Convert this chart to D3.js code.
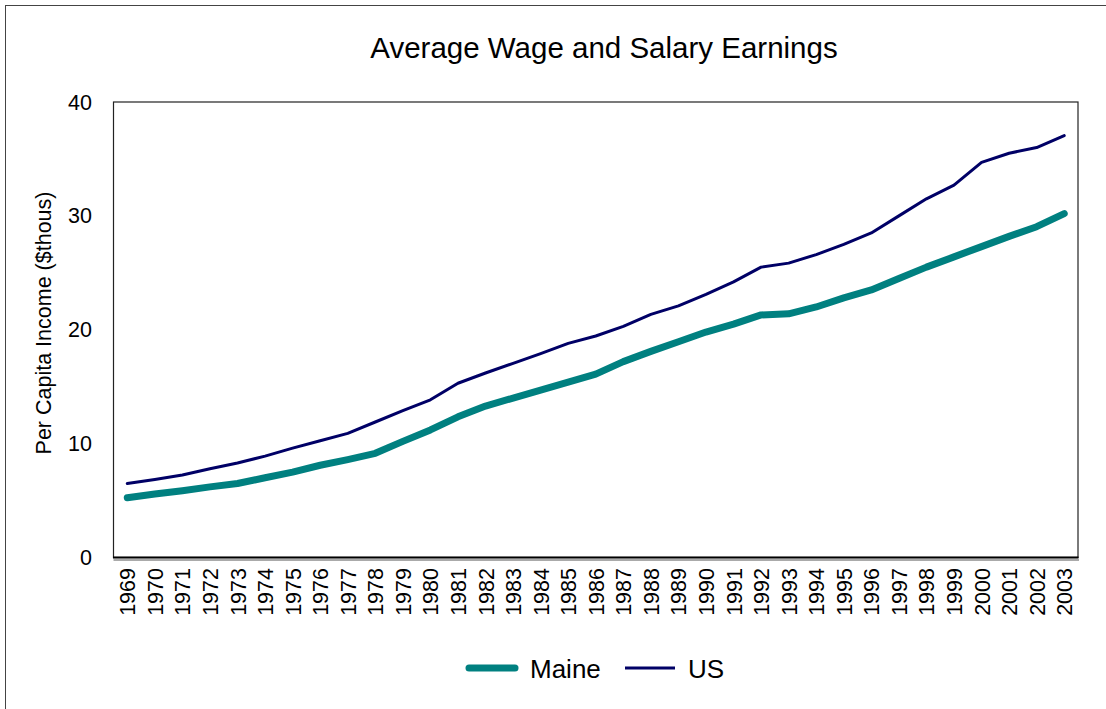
<!DOCTYPE html>
<html><head><meta charset="utf-8">
<script src="https://cdn.jsdelivr.net/npm/d3@7"></script>
<style>body{margin:0;background:#fff;} svg{display:block;} text{font-family:"Liberation Sans",Arial,sans-serif;}</style>
</head><body>
<script>
const years = [1969,1970,1971,1972,1973,1974,1975,1976,1977,1978,1979,1980,1981,1982,1983,1984,1985,1986,1987,1988,1989,1990,1991,1992,1993,1994,1995,1996,1997,1998,1999,2000,2001,2002,2003];
const maine = [5.25,5.57,5.87,6.2,6.5,7.0,7.5,8.1,8.6,9.15,10.2,11.2,12.35,13.3,14.0,14.7,15.4,16.1,17.2,18.1,18.95,19.8,20.5,21.3,21.4,22.0,22.8,23.5,24.5,25.5,26.4,27.3,28.2,29.05,30.2];
const us = [6.5,6.85,7.24,7.8,8.3,8.9,9.6,10.25,10.9,11.9,12.9,13.85,15.3,16.2,17.05,17.9,18.8,19.45,20.3,21.35,22.1,23.1,24.2,25.5,25.85,26.6,27.5,28.5,30.0,31.5,32.7,34.7,35.5,36.0,37.05];
const yTicks = [0,10,20,30,40];
const seriesNames = ["Maine","US"];

const W = 1106, H = 709;
const svg = d3.select("body").append("svg").attr("width",W).attr("height",H);
svg.append("rect").attr("x",5.5).attr("y",5.5).attr("width",1120).attr("height",720)
  .attr("fill","#fff").attr("stroke","#444").attr("stroke-width",1);

const L = 113.5, R = 1078, T = 102, B = 557.5;
const x = d3.scaleBand().domain(years).range([L,R]);
const y = d3.scaleLinear().domain([0,40]).range([B,T]);

// plot frame
svg.append("rect").attr("x",L).attr("y",T).attr("width",R-L).attr("height",B-T)
  .attr("fill","#fff").attr("stroke","#222").attr("stroke-width",1.2);
// shadow + bottom axis line
svg.append("line").attr("x1",L).attr("x2",R+1).attr("y1",B+2.5).attr("y2",B+2.5).attr("stroke","#aaa").attr("stroke-width",2);
svg.append("line").attr("x1",L-0.5).attr("x2",R+0.5).attr("y1",B).attr("y2",B).attr("stroke","#000").attr("stroke-width",2.2);

// y tick labels
svg.append("g").selectAll("text").data(yTicks).join("text")
  .attr("x",92).attr("y",d=>y(d)).attr("dy","0.35em").attr("text-anchor","end")
  .attr("font-size",21.5).attr("fill","#000").text(d=>d);

// x tick labels (rotated)
svg.append("g").selectAll("text").data(years).join("text")
  .attr("transform",d=>`translate(${x(d)+x.bandwidth()/2+0.5},568) rotate(-90)`)
  .attr("text-anchor","end").attr("dy","0.35em")
  .attr("font-size",21.5).attr("fill","#000").text(d=>d);

// title
svg.append("text").attr("x",604).attr("y",58).attr("text-anchor","middle")
  .attr("font-size",29.5).attr("fill","#000").text("Average Wage and Salary Earnings");
// y axis title
svg.append("text").attr("transform","translate(43,323) rotate(-90)").attr("text-anchor","middle").attr("dy","0.35em")
  .attr("font-size",21.5).attr("fill","#000").text("Per Capita Income ($thous)");

const line = d3.line().x((d,i)=>x(years[i])+x.bandwidth()/2).y(d=>y(d));
svg.append("path").datum(maine).attr("d",line).attr("fill","none")
  .attr("stroke","#008080").attr("stroke-width",7).attr("stroke-linecap","round").attr("stroke-linejoin","round");
svg.append("path").datum(us).attr("d",line).attr("fill","none")
  .attr("stroke","#000066").attr("stroke-width",3).attr("stroke-linecap","round").attr("stroke-linejoin","round");

// legend
const leg = svg.append("g");
leg.append("line").attr("x1",469).attr("x2",515).attr("y1",668).attr("y2",668)
  .attr("stroke","#008080").attr("stroke-width",7).attr("stroke-linecap","round");
leg.append("text").attr("x",530).attr("y",669).attr("dy","0.35em").attr("font-size",26).text(seriesNames[0]);
leg.append("line").attr("x1",625).attr("x2",675).attr("y1",668).attr("y2",668)
  .attr("stroke","#000066").attr("stroke-width",3);
leg.append("text").attr("x",688).attr("y",669).attr("dy","0.35em").attr("font-size",26).text(seriesNames[1]);
</script>
</body></html>
